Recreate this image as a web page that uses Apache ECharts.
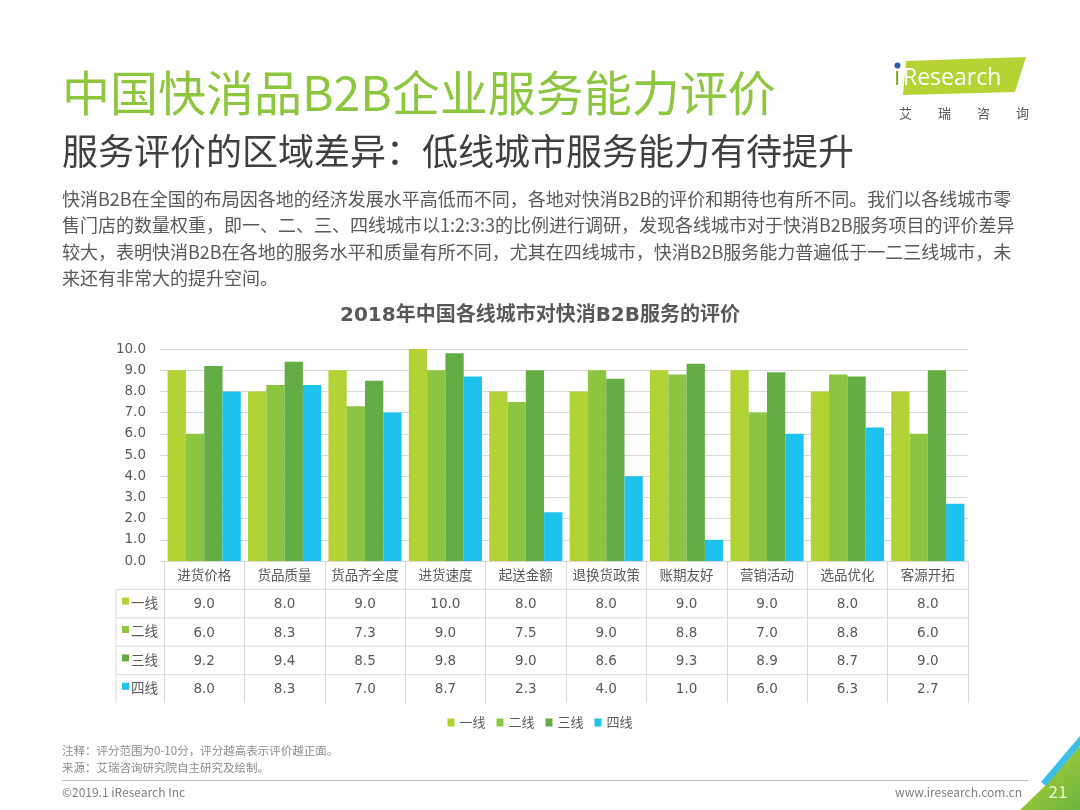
<!DOCTYPE html>
<html><head><meta charset="utf-8">
<script src="https://cdn.jsdelivr.net/npm/echarts@6.0.0/dist/echarts.min.js"></script>
<style>html,body{margin:0;padding:0;background:#fff}#c{width:1080px;height:810px}</style>
</head><body><div id="c"></div>
<script>
// ---- data ----
const categories = ['进货价格','货品质量','货品齐全度','进货速度','起送金额','退换货政策','账期友好','营销活动','选品优化','客源开拓'];
const seriesNames = ['一线','二线','三线','四线'];
const tier1 = [9.0, 8.0, 9.0, 10.0, 8.0, 8.0, 9.0, 9.0, 8.0, 8.0];
const tier2 = [6.0, 8.3, 7.3, 9.0, 7.5, 9.0, 8.8, 7.0, 8.8, 6.0];
const tier3 = [9.2, 9.4, 8.5, 9.8, 9.0, 8.6, 9.3, 8.9, 8.7, 9.0];
const tier4 = [8.0, 8.3, 7.0, 8.7, 2.3, 4.0, 1.0, 6.0, 6.3, 2.7];
const yMin = 0, yMax = 10, yStep = 1;

const title = '中国快消品B2B企业服务能力评价';
const subtitle = '服务评价的区域差异：低线城市服务能力有待提升';
const bodyLines = [
  '快消B2B在全国的布局因各地的经济发展水平高低而不同，各地对快消B2B的评价和期待也有所不同。我们以各线城市零',
  '售门店的数量权重，即一、二、三、四线城市以1:2:3:3的比例进行调研，发现各线城市对于快消B2B服务项目的评价差异',
  '较大，表明快消B2B在各地的服务水平和质量有所不同，尤其在四线城市，快消B2B服务能力普遍低于一二三线城市，未',
  '来还有非常大的提升空间。'
];
const chartTitle = '2018年中国各线城市对快消B2B服务的评价';
const noteLines = ['注释：评分范围为0-10分，评分越高表示评价越正面。', '来源：艾瑞咨询研究院自主研究及绘制。'];
const copyright = '©2019.1 iResearch Inc';
const website = 'www.iresearch.com.cn';
const pageNo = '21';

// ---- style / layout ----
const colors = ['#b2d235', '#8cc540', '#64ad45', '#1ec2ee'];
const seriesData = [tier1, tier2, tier3, tier4];
const CJK = '"Noto Sans CJK SC", sans-serif';
const NUM = '"DejaVu Sans", "Noto Sans CJK SC", sans-serif';
const GRID = {left: 164, right: 112, top: 349, bottom: 249};
const ROW_H = 28.4;
const AXIS_Y = 810 - GRID.bottom;
const TABLE_LEFT = 116;
const TABLE_RIGHT = 1080 - GRID.right;
const LINE_C = '#d9d9d9';

const chart = echarts.init(document.getElementById('c'), null, {renderer: 'canvas'});

const graphics = [];
// header texts
graphics.push({type: 'text', x: 62, y: 93, style: {text: title, fill: '#8dc63f', font: 'normal 48px ' + CJK, textVerticalAlign: 'middle'}});
graphics.push({type: 'text', x: 62, y: 151, style: {text: subtitle, fill: '#404040', font: 'normal 36px ' + CJK, textVerticalAlign: 'middle'}});
graphics.push({type: 'text', x: 62, y: 186, style: {text: bodyLines.join('\n'), fill: '#595959', font: 'normal 18px ' + CJK, lineHeight: 26.4, textVerticalAlign: 'top'}});
graphics.push({type: 'text', x: 540, y: 316, style: {text: chartTitle, fill: '#595959', font: 'bold 20px ' + NUM, textAlign: 'center', textVerticalAlign: 'middle'}});

// logo
graphics.push({type: 'polygon', shape: {points: [[906, 61], [1026, 57], [1015, 92], [903, 95]]}, style: {fill: '#b5d334'}});
graphics.push({type: 'text', x: 894, y: 78, style: {text: 'ı', fill: '#7fa52a', font: 'normal 25px "Open Sans", sans-serif', textVerticalAlign: 'middle'}});
graphics.push({type: 'circle', shape: {cx: 897.5, cy: 65.5, r: 3}, style: {fill: '#2a5caa'}});
graphics.push({type: 'text', x: 903, y: 78, style: {text: 'Research', fill: '#ffffff', font: 'normal 23px "Open Sans", sans-serif', textVerticalAlign: 'middle'}});
['艾', '瑞', '咨', '询'].forEach((ch, i) => {
  graphics.push({type: 'text', x: 899 + i * 39, y: 113, style: {text: ch, fill: '#595959', font: 'normal 13px ' + CJK, textVerticalAlign: 'middle'}});
});

// table horizontal lines + left column
for (let k = 1; k <= seriesNames.length; k++) {
  const y = AXIS_Y + ROW_H * k;
  graphics.push({type: 'line', shape: {x1: TABLE_LEFT, y1: y, x2: TABLE_RIGHT, y2: y}, style: {stroke: LINE_C, lineWidth: 1}});
}
graphics.push({type: 'line', shape: {x1: TABLE_LEFT, y1: AXIS_Y + ROW_H, x2: TABLE_LEFT, y2: AXIS_Y + ROW_H * (seriesNames.length + 1)}, style: {stroke: LINE_C, lineWidth: 1}});
seriesNames.forEach((n, i) => {
  const cy = AXIS_Y + ROW_H * (i + 1.5);
  graphics.push({type: 'rect', shape: {x: 122, y: cy - 6, width: 7, height: 7}, style: {fill: colors[i]}});
  graphics.push({type: 'text', x: 131, y: cy - 1, style: {text: n, fill: '#595959', font: 'normal 13.5px ' + CJK, textVerticalAlign: 'middle'}});
});

// footer
graphics.push({type: 'text', x: 62, y: 751, style: {text: noteLines[0], fill: '#8c8c8c', font: 'normal 11.5px ' + CJK, textVerticalAlign: 'middle'}});
graphics.push({type: 'text', x: 62, y: 768, style: {text: noteLines[1], fill: '#8c8c8c', font: 'normal 11.5px ' + CJK, textVerticalAlign: 'middle'}});
graphics.push({type: 'line', shape: {x1: 62, y1: 780.5, x2: 1028, y2: 780.5}, style: {stroke: '#bfbfbf', lineWidth: 1}});
graphics.push({type: 'text', x: 62, y: 792, style: {text: copyright, fill: '#7f7f7f', font: 'normal 12px ' + CJK, textVerticalAlign: 'middle'}});
graphics.push({type: 'text', x: 1022, y: 792, style: {text: website, fill: '#7f7f7f', font: 'normal 12px ' + CJK, textAlign: 'right', textVerticalAlign: 'middle'}});
// corner decoration
graphics.push({type: 'polygon', shape: {points: [[1020, 810], [1046, 785], [1080, 746], [1080, 810]]},
  style: {fill: new echarts.graphic.LinearGradient(0, 0, 1, 1, [{offset: 0, color: '#b9d431'}, {offset: 1, color: '#6bb43f'}])}});
graphics.push({type: 'polygon', shape: {points: [[1041, 782], [1080, 736], [1080, 746], [1046, 786]]}, style: {fill: '#3cbfe6'}});
graphics.push({type: 'text', x: 1058, y: 792, style: {text: pageNo, fill: '#eef7d0', font: 'normal 17px ' + CJK, textAlign: 'center', textVerticalAlign: 'middle'}});

const option = {
  backgroundColor: '#ffffff',
  animation: false,
  color: colors,
  grid: GRID,
  legend: {
    data: seriesNames, top: 711, left: 'center', icon: 'rect', itemWidth: 7, itemHeight: 8, itemGap: 11,
    textStyle: {color: '#595959', fontSize: 13, fontFamily: CJK}
  },
  xAxis: {
    type: 'category', data: categories, boundaryGap: true,
    axisLine: {show: true, lineStyle: {color: LINE_C}},
    axisTick: {show: true, interval: 0, length: ROW_H * (seriesNames.length + 1), lineStyle: {color: LINE_C}},
    axisLabel: {
      interval: 0, margin: 1, color: '#595959', fontSize: 13.5, fontFamily: NUM, lineHeight: ROW_H,
      verticalAlign: 'top',
      formatter: (v, idx) => [v].concat(seriesData.map(arr => arr[idx].toFixed(1))).join('\n')
    }
  },
  yAxis: {
    type: 'value', min: yMin, max: yMax, interval: yStep,
    axisLine: {show: false},
    axisTick: {show: true, length: 4, lineStyle: {color: LINE_C}},
    splitLine: {show: true, lineStyle: {color: LINE_C, width: 1}},
    axisLabel: {margin: 18, color: '#595959', fontSize: 13.5, fontFamily: NUM, formatter: v => v.toFixed(1)}
  },
  series: seriesNames.map((n, i) => ({
    name: n, type: 'bar', data: seriesData[i], barGap: '0%', barCategoryGap: '9%',
    itemStyle: {color: colors[i]}
  })),
  graphic: {elements: graphics}
};
chart.setOption(option);
</script>
</body></html>
